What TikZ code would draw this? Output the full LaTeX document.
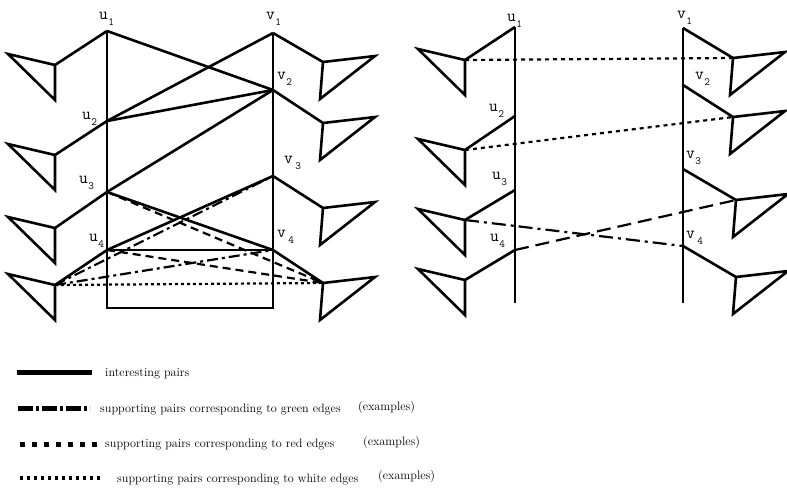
\documentclass[tikz,border=0pt]{standalone}
\usepackage{fontspec}
\usetikzlibrary{positioning}

% vertex label with a lowered index
\newcommand{\vl}[2]{#1\kern0.5pt\raisebox{-6pt}{\fontsize{11}{11}\selectfont #2}}

\begin{document}
\begin{tikzpicture}[x=1pt,y=-1pt,
	every node/.style={inner sep=0pt},
	edge/.style={line width=2.6pt},
	green/.style={line width=2.2pt,
				  dash pattern=on 11pt off 4pt on 3pt off 4pt},
	red/.style={line width=2.2pt, dash pattern=on 8pt off 5pt},
	white/.style={line width=2.2pt, dash pattern=on 3pt off 3pt},
	lab/.style={anchor=base west, font=\ttfamily\fontsize{17}{17}\selectfont},
	legtext/.style={anchor=base west, font=\fontsize{12.2}{14}\selectfont},
	ltri/.pic={\draw[edge] (0,0) -- (-47,-11) -- (0,35) -- cycle;},
	rtri/.pic={\draw[edge] (0,0) -- (52,-6) -- (-3,37) -- cycle;}
]
	\useasboundingbox (0,0) rectangle (787,490);

	%% left part
	\coordinate (Lu1) at (107,31);
	\coordinate (Lu2) at (107,121);
	\coordinate (Lu3) at (107,192);
	\coordinate (Lu4) at (107,250);
	\coordinate (Lub) at (107,308);
	\coordinate (Lv1) at (273,33);
	\coordinate (Lv2) at (273,90);
	\coordinate (Lv3) at (273,176);
	\coordinate (Lv4) at (273,250);
	\coordinate (Lvb) at (273,308);
	% triangles on both sides
	\foreach \n/\y in {1/65,2/155,3/228,4/285}
		\pic (La\n) at (55,\y) {ltri};
	\foreach \n/\y in {1/62,2/123,3/208,4/283}
		\pic (Lb\n) at (323,\y) {rtri};
	\foreach \n/\y in {1/65,2/155,3/228,4/285}
		\coordinate (La\n) at (55,\y);
	\foreach \n/\y in {1/62,2/123,3/208,4/283}
		\coordinate (Lb\n) at (323,\y);
	\foreach \n in {1,...,4}{
		\draw[edge] (La\n) -- (Lu\n);
		\draw[edge] (Lv\n) -- (Lb\n);
	}
	\draw[edge] (Lu1) -- (Lub) -- (Lvb) -- (Lv1);
	\draw[edge] (Lu1) -- (Lv2);
	\draw[edge] (Lu2) -- (Lv1);
	\draw[edge] (Lu2) -- (Lv2);
	\draw[edge] (Lu3) -- (Lv2);
	\draw[edge] (Lu3) -- (Lv4);
	\draw[edge] (Lu4) -- (Lv3);
	\draw[edge] (Lu4) -- (Lv4);
	\draw[green] (La4) -- (Lv3);
	\draw[green] (La4) -- (Lv4);
	\draw[red] (Lu3) -- (Lb4);
	\draw[red] (Lu4) -- (Lb4);
	\draw[white] (La4) -- (Lb4);

	\node[lab] (tLu1) at (99,19) {\vl{u}{1}};
	\node[lab] (tLv1) at (266,19) {\vl{v}{1}};
	\node[lab] (tLu2) at (82,119) {\vl{u}{2}};
	\node[lab] (tLv2) at (277,79) {\vl{v}{2}};
	\node[lab] (tLu3) at (79,183) {\vl{u}{3}};
	\node[lab] (tLv3) at (284,163) {\vl{v}{\,3}};
	\node[lab] (tLu4) at (89,241) {\vl{u}{4}};
	\node[lab] (tLv4) at (277,237) {\vl{v}{\,4}};

	%% right part
	\coordinate (Ru1) at (515,27);
	\coordinate (Ru2) at (515,116);
	\coordinate (Ru3) at (515,190);
	\coordinate (Ru4) at (515,250);
	\coordinate (Rub) at (515,303);
	\coordinate (Rv1) at (683,28);
	\coordinate (Rv2) at (683,85);
	\coordinate (Rv3) at (683,169);
	\coordinate (Rv4) at (683,246);
	\coordinate (Rvb) at (683,303);
	\foreach \n/\y in {1/60,2/150,3/220,4/280}
		\pic (Ra\n) at (465,\y) {ltri};
	\foreach \n/\x/\y in {1/733/58,2/733/117,3/736/200,4/736/277}
		\pic (Rb\n) at (\x,\y) {rtri};
	\foreach \n/\y in {1/60,2/150,3/220,4/280}
		\coordinate (Ra\n) at (465,\y);
	\foreach \n/\x/\y in {1/733/58,2/733/117,3/736/200,4/736/277}
		\coordinate (Rb\n) at (\x,\y);
	\foreach \n in {1,...,4}{
		\draw[edge] (Ra\n) -- (Ru\n);
		\draw[edge] (Rv\n) -- (Rb\n);
	}
	\draw[edge] (Ru1) -- (Rub);
	\draw[edge] (Rv1) -- (Rvb);
	\draw[white, dash pattern=on 4pt off 4pt] (Ra1) -- (Rb1);
	\draw[white, dash pattern=on 4pt off 4pt] (Ra2) -- (Rb2);
	\draw[green, dash pattern=on 14pt off 5pt on 3pt off 5pt] (Ra3) -- (Rv4);
	\draw[red, dash pattern=on 14pt off 7pt] (Ru4) -- (Rb3);

	\node[lab] (tRu1) at (507,21) {\vl{u}{1}};
	\node[lab] (tRv1) at (677,18) {\vl{v}{1}};
	\node[lab] (tRu2) at (489,111) {\vl{u}{2}};
	\node[lab] (tRv2) at (695,79) {\vl{v}{2}};
	\node[lab] (tRu3) at (492,179) {\vl{u}{3}};
	\node[lab] (tRv3) at (686,158) {\vl{v}{3}};
	\node[lab] (tRu4) at (490,241) {\vl{u}{4}};
	\node[lab] (tRv4) at (686,238) {\vl{v}{\,4}};

	%% legend
	\coordinate (k1a) at (17,372);
	\coordinate (k1b) at (92,372);
	\coordinate (k2a) at (18,408);
	\coordinate (k2b) at (90,408);
	\coordinate (k3a) at (20,444);
	\coordinate (k3b) at (97,444);
	\coordinate (k4a) at (20,478);
	\coordinate (k4b) at (100,478);
	\draw[line width=5pt] (k1a) -- (k1b);
	\draw[line width=5pt, dash pattern=on 15pt off 3pt on 3pt off 3pt] (k2a) -- (k2b);
	\draw[line width=5pt, dash pattern=on 5pt off 7pt] (k3a) -- (k3b);
	\draw[line width=3.5pt, dash pattern=on 3pt off 4pt] (k4a) -- (k4b);

	\node[legtext] (t1) at (105,376) {interesting pairs};
	\node[legtext] (t2) at (100,412) {supporting pairs corresponding to green edges};
	\node[legtext] (e2) at (358,410) {(examples)};
	\node[legtext] (t3) at (105,447) {supporting pairs corresponding to red edges};
	\node[legtext] (e3) at (363,445) {(examples)};
	\node[legtext] (t4) at (117,482) {supporting pairs corresponding to white edges};
	\node[legtext] (e4) at (378,479) {(examples)};
\end{tikzpicture}
\end{document}
